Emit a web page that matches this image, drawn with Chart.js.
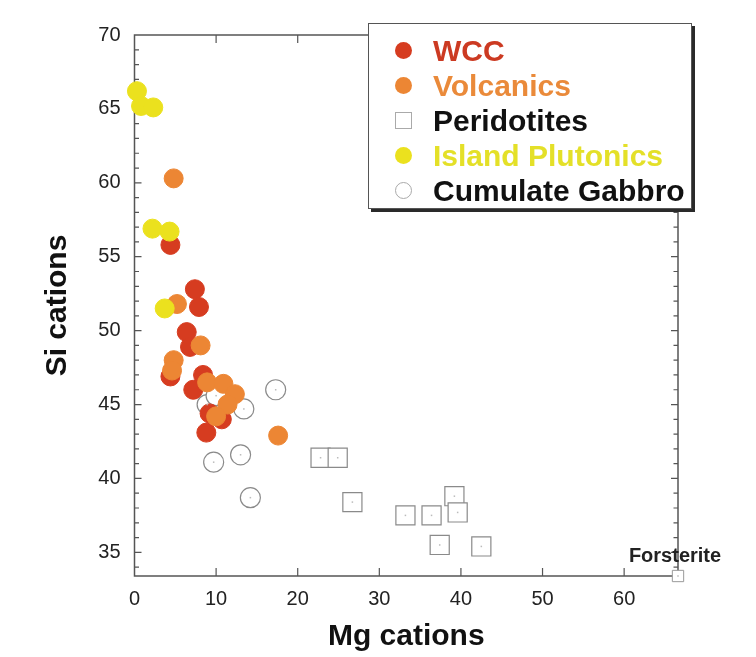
<!DOCTYPE html>
<html>
<head>
<meta charset="utf-8">
<script src="https://cdn.jsdelivr.net/npm/chart.js@4.4.1/dist/chart.umd.min.js"></script>
<style>
  body { margin: 0; background: #fff; }
  #wrap { position: relative; width: 756px; height: 657px; }
  #legend {
    position: absolute; left: 368px; top: 23px; width: 324px; height: 186px;
    background: #fff; border: 1px solid #555; box-shadow: 3px 3px 0 #2a2a2a;
    font: bold 30px "Liberation Sans", Arial, sans-serif;
    padding-top: 9px; box-sizing: border-box;
  }
  .row { position: relative; height: 35px; line-height: 35px; padding-left: 64px; white-space: nowrap; }
  .mk { position: absolute; left: 26px; top: 9px; width: 17px; height: 17px; box-sizing: border-box; }
  .dot { border-radius: 50%; }
</style>
</head>
<body>
<div id="wrap">
  <canvas id="myChart" width="756" height="657"></canvas>
  <div id="legend"></div>
</div>
<script>
// 各データ (Mg, Si cations)
var wccMg = [4.4, 7.4, 7.9, 6.4, 6.8, 8.4, 4.4, 7.2, 9.2, 10.7, 8.8];
var wccSi = [55.8, 52.8, 51.6, 49.9, 48.9, 47.0, 46.9, 46.0, 44.4, 44.0, 43.1];

var volMg = [4.8, 5.2, 8.1, 4.8, 4.6, 8.9, 10.9, 12.3, 11.4, 10.0, 17.6];
var volSi = [60.3, 51.8, 49.0, 48.0, 47.3, 46.5, 46.4, 45.7, 45.0, 44.2, 42.9];

var perMg = [22.8, 24.9, 26.7, 33.2, 36.4, 39.2, 39.6, 37.4, 42.5];
var perSi = [41.4, 41.4, 38.4, 37.5, 37.5, 38.8, 37.7, 35.5, 35.4];

var plutMg = [0.3, 0.8, 2.3, 2.2, 4.3, 3.7];
var plutSi = [66.2, 65.2, 65.1, 56.9, 56.7, 51.5];

var gabMg = [17.3, 8.9, 10.0, 13.4, 9.7, 13.0, 14.2];
var gabSi = [46.0, 45.0, 45.6, 44.7, 41.1, 41.6, 38.7];

var forMg = [66.6];
var forSi = [33.4];

var xTicks = [0, 10, 20, 30, 40, 50, 60];
var yTicks = [35, 40, 45, 50, 55, 60, 65, 70];

var legendNames = ["WCC", "Volcanics", "Peridotites", "Island Plutonics", "Cumulate Gabbro"];
var legendColors = ["#cc3a22", "#ea8a3a", "#111", "#e4e028", "#111"];

function pts(xs, ys) {
  return xs.map(function (x, i) { return { x: x, y: ys[i] }; });
}

// 凡例 (HTML)
var legendMarks = [
  'background:#d63c20',
  'background:#ec8634',
  'border:1px solid #aaa;background:#fff;border-radius:0',
  'background:#ebe11e',
  'border:1px solid #aaa;background:#fff'
];
var lg = document.getElementById("legend");
legendNames.forEach(function (name, i) {
  var row = document.createElement("div");
  row.className = "row";
  row.style.color = legendColors[i];
  row.innerHTML = '<span class="mk dot" style="' + legendMarks[i] + '"></span>' + name;
  lg.appendChild(row);
});

// 枠と内向きの目盛り
var framePlugin = {
  id: "frame",
  beforeDatasetsDraw: function (chart) {
    var ctx = chart.ctx, a = chart.chartArea;
    var xs = chart.scales.x, ys = chart.scales.y;
    ctx.save();
    ctx.strokeStyle = "#555";
    ctx.lineWidth = 1.5;
    ctx.strokeRect(a.left, a.top, a.right - a.left, a.bottom - a.top);
    ctx.lineWidth = 1.2;
    ctx.beginPath();
    xTicks.forEach(function (v) {
      if (v === 0) return;
      var px = xs.getPixelForValue(v);
      ctx.moveTo(px, a.bottom); ctx.lineTo(px, a.bottom - 8);
      ctx.moveTo(px, a.top); ctx.lineTo(px, a.top + 8);
    });
    for (var v = 34; v < 70; v++) {
      var py = ys.getPixelForValue(v);
      var len = (v % 5 === 0) ? 7 : 4.5;
      ctx.moveTo(a.left, py); ctx.lineTo(a.left + len, py);
      ctx.moveTo(a.right, py); ctx.lineTo(a.right - len, py);
    }
    ctx.stroke();
    ctx.restore();
  },
  afterDatasetsDraw: function (chart) {
    var ctx = chart.ctx;
    ctx.save();
    // 白抜き記号の中心の小さな点
    ctx.fillStyle = "#bbb";
    [0, 2, 5].forEach(function (i) {
      chart.getDatasetMeta(i).data.forEach(function (p) {
        ctx.fillRect(p.x - 0.75, p.y - 0.75, 1.5, 1.5);
      });
    });
    var f = chart.getDatasetMeta(5).data[0];
    ctx.fillStyle = "#222";
    ctx.font = "bold 20px 'Liberation Sans', Arial, sans-serif";
    ctx.textAlign = "center";
    ctx.textBaseline = "alphabetic";
    ctx.fillText("Forsterite", f.x - 3, f.y - 14);
    ctx.restore();
  }
};

var ctx = document.getElementById("myChart").getContext("2d");
var myChart = new Chart(ctx, {
  type: "scatter",
  data: {
    datasets: [
      { label: "Cumulate Gabbro", data: pts(gabMg, gabSi), order: 6,
        pointStyle: "circle", pointRadius: 10, backgroundColor: "#fff", borderColor: "#8a8a8a", borderWidth: 1.2 },
      { label: "Island Plutonics", data: pts(plutMg, plutSi), order: 2,
        pointRadius: 9.5, backgroundColor: "#ebe11e", borderColor: "#ebe11e", borderWidth: 1 },
      { label: "Peridotites", data: pts(perMg, perSi), order: 3,
        pointStyle: "rect", pointRadius: 13.5, backgroundColor: "#fff", borderColor: "#8a8a8a", borderWidth: 1.2 },
      { label: "Volcanics", data: pts(volMg, volSi), order: 4,
        pointRadius: 9.5, backgroundColor: "#ec8634", borderColor: "#ec8634", borderWidth: 1 },
      { label: "WCC", data: pts(wccMg, wccSi), order: 5,
        pointRadius: 9.5, backgroundColor: "#d63c20", borderColor: "#d63c20", borderWidth: 1 },
      { label: "Forsterite", data: pts(forMg, forSi), order: 0,
        pointStyle: "rect", pointRadius: 8, backgroundColor: "#fff", borderColor: "#999", borderWidth: 1 }
    ].map(function (d) { d.clip = false; return d; })
  },
  options: {
    responsive: false,
    animation: false,
    devicePixelRatio: 1,
    layout: { padding: { left: 0, top: 35, right: 78, bottom: 0 } },
    plugins: { legend: { display: false }, tooltip: { enabled: false } },
    scales: {
      x: {
        type: "linear", min: 0, max: 66.6,
        afterBuildTicks: function (s) { s.ticks = xTicks.map(function (v) { return { value: v }; }); },
        afterFit: function (s) { s.height = 81; },
        grid: { display: false, drawTicks: false },
        border: { display: false },
        ticks: { padding: 11, color: "#222", font: { family: "'Liberation Sans', Arial", size: 20 } },
        title: { display: true, text: "Mg cations", color: "#111", padding: { bottom: 2 },
                 font: { family: "'Liberation Sans', Arial", size: 30, weight: "bold" } }
      },
      y: {
        type: "linear", min: 33.4, max: 70,
        afterBuildTicks: function (s) { s.ticks = yTicks.map(function (v) { return { value: v }; }); },
        afterFit: function (s) { s.width = 134.5; },
        grid: { display: false, drawTicks: false },
        border: { display: false },
        ticks: { padding: 14, color: "#222", font: { family: "'Liberation Sans', Arial", size: 20 } },
        title: { display: true, text: "Si cations", color: "#111", padding: { top: 40 },
                 font: { family: "'Liberation Sans', Arial", size: 30, weight: "bold" } }
      }
    }
  },
  plugins: [framePlugin]
});
</script>
</body>
</html>
